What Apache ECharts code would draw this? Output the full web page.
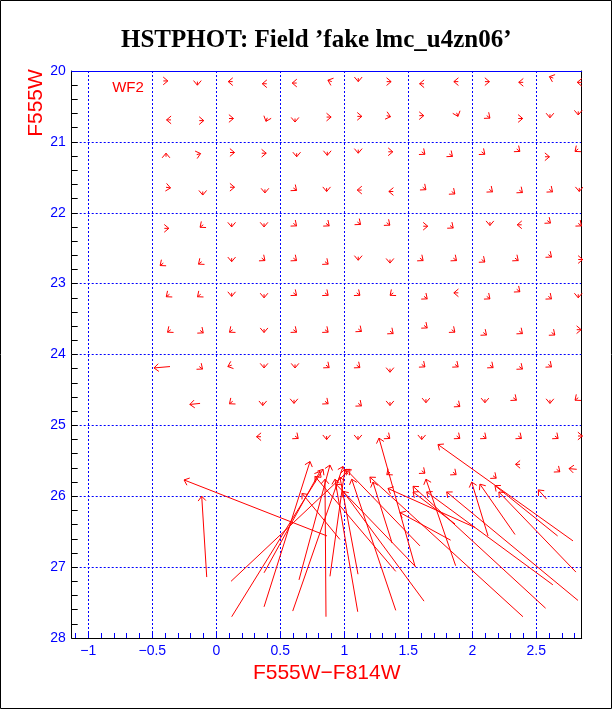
<!DOCTYPE html>
<html><head><meta charset="utf-8">
<script src="https://cdn.jsdelivr.net/npm/echarts@6/dist/echarts.min.js"></script>
<style>html,body{margin:0;padding:0;background:#fff;}#c{width:612px;height:709px;}</style>
</head><body><div id="c"></div>
<script>
// Axis ticks / labels
const xLabelValues = [-1, -0.5, 0, 0.5, 1, 1.5, 2, 2.5];
const xMinorTicks = [-1.1,-1.0,-0.9,-0.8,-0.7,-0.6,-0.5,-0.4,-0.3,-0.2,-0.1,0,0.1,0.2,0.3,0.4,0.5,0.6,0.7,0.8,0.9,1.0,1.1,1.2,1.3,1.4,1.5,1.6,1.7,1.8,1.9,2.0,2.1,2.2,2.3,2.4,2.5,2.6,2.7,2.8];
const yLabelValues = [20, 21, 22, 23, 24, 25, 26, 27, 28];
const yMinorTicks = [20.2,20.4,20.6,20.8,21,21.2,21.4,21.6,21.8,22,22.2,22.4,22.6,22.8,23,23.2,23.4,23.6,23.8,24,24.2,24.4,24.6,24.8,25,25.2,25.4,25.6,25.8,26,26.2,26.4,26.6,26.8,27,27.2,27.4,27.6,27.8];

// Small displacement vectors on the bright grid: [color, mag, dColor, dMag]
const fieldVectors = [
[-0.414,20.14,0.035,0],[-0.148,20.15,0,0.05],[0.128,20.15,-0.035,0],[0.394,20.18,-0.035,0],[0.628,20.17,-0.035,0],[0.902,20.15,-0.03,-0.02],[1.109,20.10,0,0.05],[1.331,20.15,0.035,0],[1.623,20.18,-0.035,0],[1.891,20.15,-0.035,0],[2.099,20.15,0.035,0],[2.398,20.16,-0.035,0],[2.633,20.10,-0.03,-0.02],[2.855,20.16,-0.035,0],
[-0.354,20.69,-0.035,0],[-0.133,20.70,0.035,0],[0.099,20.67,0.035,0],[0.398,20.66,-0.01,0.05],[0.615,20.67,0,0.05],[0.862,20.65,0.035,0],[1.102,20.64,0.035,0],[1.331,20.63,0.03,0.015],[1.586,20.63,0.035,0],[1.878,20.59,0.01,0.05],[2.113,20.63,0.025,0.035],[2.359,20.67,0.035,0],[2.607,20.61,0,0.05],[2.828,20.57,0,0.05],
[-0.393,21.21,0,-0.05],[-0.153,21.18,0.03,-0.015],[0.107,21.15,0.035,0],[0.355,21.16,0.035,0],[0.628,21.16,0,0.05],[0.867,21.14,0,0.05],[1.109,21.11,0,0.05],[1.344,21.14,0.035,0],[1.605,21.14,0.025,0.035],[1.820,21.17,0.025,0.035],[2.073,21.14,0.025,0.035],[2.347,21.10,0.025,0.035],[2.568,21.21,0.035,0],[2.828,21.10,-0.025,0.035],
[-0.393,21.64,0.035,0.01],[-0.106,21.70,0,0.05],[0.107,21.64,0.035,0],[0.380,21.67,0,0.05],[0.602,21.65,0.025,0.035],[0.862,21.65,0,0.05],[1.136,21.68,-0.035,0],[1.383,21.70,-0.035,0],[1.613,21.64,0.025,0.035],[1.839,21.70,0.025,0.035],[2.133,21.67,0.025,0.035],[2.367,21.68,0.025,0.035],[2.602,21.67,0.025,0.035],[2.836,21.65,0,0.05],
[-0.406,22.22,0.035,0],[-0.102,22.17,-0.025,0.035],[0.120,22.15,0,0.05],[0.373,22.15,0,0.05],[0.602,22.15,0.025,0.035],[0.857,22.15,0.025,0.035],[1.102,22.13,0.025,0.035],[1.331,22.14,0.025,0.035],[1.617,22.19,0.035,0],[1.826,22.18,0.025,0.035],[2.138,22.13,0,0.05],[2.386,22.17,-0.035,0],[2.586,22.11,0.025,0.035],[2.828,22.15,0.025,0.035],
[-0.414,22.71,-0.025,0.035],[-0.114,22.69,-0.025,0.035],[0.120,22.64,0,0.05],[0.355,22.64,0.025,0.035],[0.602,22.64,0.025,0.035],[0.849,22.69,0.025,0.035],[1.109,22.62,0,0.05],[1.357,22.66,0,0.05],[1.591,22.64,0.025,0.035],[1.852,22.64,0.025,0.035],[2.073,22.66,0.025,0.035],[2.334,22.64,0.025,0.035],[2.594,22.59,0.025,0.035],[2.828,22.66,0.035,0],
[-0.366,23.15,-0.025,0.035],[-0.122,23.15,-0.025,0.035],[0.120,23.13,0,0.05],[0.373,23.15,0,0.05],[0.602,23.13,0.025,0.035],[0.849,23.13,0.025,0.035],[1.097,23.13,0.025,0.035],[1.383,23.13,-0.025,0.035],[1.623,23.18,0.025,0.035],[1.891,23.13,-0.035,0],[2.113,23.18,0.025,0.035],[2.347,23.08,0.025,0.035],[2.594,23.18,0.025,0.035],[2.828,23.15,0,0.05],
[-0.356,23.65,-0.025,0.035],[-0.127,23.66,0.025,0.035],[0.128,23.65,-0.025,0.035],[0.373,23.64,0,0.05],[0.602,23.65,0.025,0.035],[0.849,23.65,0.025,0.035],[1.109,23.64,0.025,0.035],[1.357,23.67,0.025,0.035],[1.623,23.59,0.025,0.035],[1.839,23.65,0.025,0.035],[2.086,23.69,0.025,0.035],[2.367,23.67,0.025,0.035],[2.620,23.69,0.025,0.035],[2.816,23.65,0.035,0],
[-0.362,24.17,-0.125,0.02],[-0.133,24.17,0.025,0.035],[0.120,24.15,-0.03,0.02],[0.373,24.14,0,0.05],[0.615,24.14,0,0.05],[0.857,24.15,0.025,0.035],[1.097,24.15,0.025,0.035],[1.357,24.20,0,0.05],[1.605,24.14,0.025,0.035],[1.865,24.14,0.025,0.035],[2.138,24.15,0.025,0.035],[2.367,24.17,0.025,0.035],[2.594,24.14,0.025,0.035],
[-0.127,24.69,-0.08,0.015],[0.128,24.66,-0.025,0.035],[0.363,24.67,0,0.05],[0.607,24.64,0,0.05],[0.849,24.66,0.025,0.035],[1.109,24.69,0.025,0.035],[1.357,24.67,0,0.05],[1.638,24.63,0,0.05],[1.878,24.70,0.025,0.035],[2.099,24.63,0,0.05],[2.320,24.61,0.025,0.035],[2.607,24.64,0,0.05],[2.828,24.61,-0.025,0.035],
[0.349,25.16,-0.035,0],[0.615,25.15,0.025,0.035],[0.862,25.15,0,0.05],[1.107,25.15,0,0.05],[1.331,25.15,0.025,0.035],[1.605,25.15,0,0.05],[1.878,25.15,0.025,0.035],[2.083,25.15,0.025,0.035],[2.359,25.15,0.025,0.035],[2.646,25.15,0.025,0.035],[2.826,25.15,0.035,0],
[1.357,25.66,-0.025,0.035],[1.605,25.64,0.025,0.035],[1.849,25.66,0.025,0.035],[2.162,25.71,0.025,0.035],[2.373,25.55,-0.035,0],[2.659,25.62,0.025,0.035],[2.816,25.62,-0.06,-0.01]
];

// Long vectors of the faint stars: [tailColor, tailMag, headColor, headMag]
const faintVectors = [
[-0.075,27.14,-0.114,26.00],[0.865,26.56,-0.252,25.77],[0.120,27.70,0.834,25.62],[0.115,27.20,1.045,25.62],
[0.373,27.56,0.732,25.51],[0.373,27.08,0.810,25.65],[0.597,27.62,0.990,25.58],[0.646,27.18,0.888,25.56],
[0.857,27.70,0.849,25.76],[0.888,27.13,1.005,25.62],[1.105,27.63,0.927,25.76],[1.107,27.10,0.966,25.73],
[1.402,27.61,1.058,25.76],[1.402,27.06,0.771,25.72],[1.623,27.48,0.990,25.93],[1.560,27.00,0.935,25.83],
[1.591,26.70,1.013,25.62],[1.373,26.66,1.224,25.80],[1.553,26.99,1.271,25.18],[1.870,26.98,1.638,25.76],
[1.831,26.62,1.435,26.23],[2.123,26.56,1.995,25.80],[2.334,26.54,2.060,25.83],[2.667,26.56,2.177,25.85],
[2.787,26.63,1.732,25.27],[2.810,27.07,2.208,25.94],[2.826,27.47,1.800,25.94],[2.630,27.25,1.644,25.94],
[2.573,27.58,1.537,25.86],[2.396,27.70,1.200,25.73],[0.966,26.61,0.670,25.96],[2.021,26.44,1.341,25.89],
[1.865,26.39,1.537,25.94],[2.581,26.04,2.516,25.91]
];

const RED = '#ff0000', BLUE = '#0000ff';
const fieldData = fieldVectors.map(v => [v[0], v[1], v[0] + v[2], v[1] + v[3]]);
const allData = fieldData.concat(faintVectors);

function renderArrow(params, api) {
  const p0 = api.coord([api.value(0), api.value(1)]);
  const p1 = api.coord([api.value(2), api.value(3)]);
  const ang = Math.atan2(p1[1] - p0[1], p1[0] - p0[0]);
  const L = 6, a = 0.7;
  const b1 = [p1[0] - L * Math.cos(ang - a), p1[1] - L * Math.sin(ang - a)];
  const b2 = [p1[0] - L * Math.cos(ang + a), p1[1] - L * Math.sin(ang + a)];
  return {
    type: 'group',
    children: [
      {type: 'line', shape: {x1: p0[0], y1: p0[1], x2: p1[0], y2: p1[1]}, style: {stroke: RED, lineWidth: 1}},
      {type: 'polyline', shape: {points: [b1, p1, b2]}, style: {stroke: RED, fill: null, lineWidth: 1}}
    ]
  };
}

const fmt = v => (v < 0 ? '\u2212' + Math.abs(v) : String(v));
const chart = echarts.init(document.getElementById('c'), null, {renderer: 'canvas'});
chart.setOption({
  animation: false,
  backgroundColor: '#fff',
  title: {
    text: 'HSTPHOT: Field \u2019fake lmc_u4zn06\u2019',
    left: 116, top: 23,
    textStyle: {fontFamily: 'Liberation Serif', fontWeight: 'bold', fontSize: 25, color: '#000'}
  },
  grid: {left: 71.7, right: 30.3, top: 71, bottom: 71, containLabel: false},
  xAxis: [{
    type: 'value', min: -1.13, max: 2.855, position: 'bottom',
    axisLine: {show: true, onZero: false, lineStyle: {color: '#000', width: 1}},
    axisTick: {show: true, inside: true, length: 5, customValues: xMinorTicks, lineStyle: {color: BLUE}},
    axisLabel: {show: true, customValues: xLabelValues, color: BLUE, fontSize: 14, fontFamily: 'Liberation Sans', margin: 6, formatter: fmt},
    splitLine: {show: false},
    name: 'F555W\u2212F814W', nameLocation: 'middle', nameGap: 20,
    nameTextStyle: {color: RED, fontSize: 21, fontFamily: 'Liberation Sans', verticalAlign: 'top'}
  }, {
    type: 'value', min: -1.13, max: 2.855, position: 'top',
    axisLine: {show: true, onZero: false, lineStyle: {color: BLUE, width: 1}},
    axisTick: {show: false, customValues: xLabelValues},
    axisLabel: {show: false},
    splitLine: {show: true, lineStyle: {color: BLUE, width: 1, type: [2, 2]}}
  }],
  yAxis: [{
    type: 'value', min: 20, max: 28, inverse: true, position: 'left',
    axisLine: {show: true, onZero: false, lineStyle: {color: '#000', width: 1}},
    axisTick: {show: true, inside: true, length: 6, customValues: yMinorTicks, lineStyle: {color: '#000'}},
    axisLabel: {show: true, customValues: yLabelValues, color: BLUE, fontSize: 14, fontFamily: 'Liberation Sans', margin: 6},
    splitLine: {show: false}
  }, {
    type: 'value', min: 20, max: 28, inverse: true, position: 'right',
    axisLine: {show: true, onZero: false, lineStyle: {color: '#000', width: 1}},
    axisTick: {show: false, customValues: yLabelValues},
    axisLabel: {show: false},
    splitLine: {show: true, lineStyle: {color: BLUE, width: 1, type: [2, 2]}}
  }],
  graphic: [
    {type: 'rect', shape: {x: 0.5, y: 0.5, width: 611, height: 708}, style: {fill: null, stroke: '#000', lineWidth: 1}, z: 100},
    {type: 'text', x: 36, y: 103, rotation: Math.PI / 2, style: {text: 'F555W', fill: RED, font: '21px "Liberation Sans"', align: 'center', verticalAlign: 'middle'}},
    {type: 'text', x: 128, y: 88, style: {text: 'WF2', fill: RED, font: '15px "Liberation Sans"', align: 'center', verticalAlign: 'middle'}}
  ],
  series: [{
    type: 'custom', coordinateSystem: 'cartesian2d', xAxisIndex: 0, yAxisIndex: 0,
    clip: true, renderItem: renderArrow, data: allData, silent: true
  }]
});
</script></body></html>
